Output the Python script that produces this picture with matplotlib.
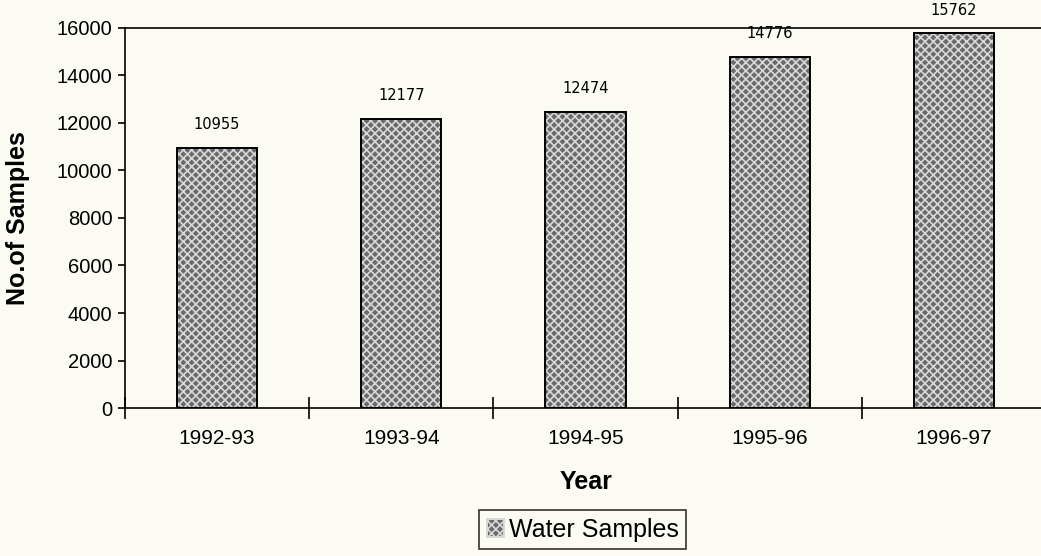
import matplotlib.pyplot as plt
import numpy as np

years = ["1992-93", "1993-94", "1994-95", "1995-96", "1996-97"]
samples = [10955, 12177, 12474, 14776, 15762]
yticks = [0, 2000, 4000, 6000, 8000, 10000, 12000, 14000, 16000]

plt.rcParams["font.family"] = ["Liberation Sans", "DejaVu Sans"]
plt.rcParams["hatch.linewidth"] = 1.2

fig = plt.figure(figsize=(10.41, 5.56), dpi=100, facecolor="#fbfaf3")
ax = fig.add_axes([0.120, 0.266, 0.885, 0.684])
ax.set_facecolor("#fbfaf3")

x = np.arange(len(years))
# textured fill, then a black outline on top
ax.bar(x, samples, width=0.435, color="#6a6a6a", edgecolor="#d8d8d8",
       hatch="xxxx", linewidth=0, zorder=2)
bars = ax.bar(x, samples, width=0.435, fill=False, edgecolor="black",
              linewidth=1.4, zorder=3)

for xi, v in zip(x, samples):
    ax.text(xi, v + 650, str(v), ha="center", va="bottom", fontsize=10.5,
            family="DejaVu Sans")

ax.set_xlim(-0.5, 4.5)
ax.set_ylim(0, 16000)
ax.set_yticks(yticks)
ax.tick_params(axis="y", labelsize=14.5, length=5, width=1.2, direction="out",
               pad=4)
ax.set_xticks(x)
ax.set_xticklabels(years)
ax.set_xticks(np.arange(-0.5, 5, 1), minor=True)
ax.tick_params(axis="x", which="major", length=0, labelsize=15, pad=15)
ax.tick_params(axis="x", which="minor", length=16, width=1.2, direction="inout")

ax.spines["right"].set_visible(False)
for s in ["left", "bottom", "top"]:
    ax.spines[s].set_linewidth(1.2)

ax.set_ylabel("No.of Samples", fontsize=18, fontweight="bold")
ax.yaxis.set_label_coords(-0.103, 0.5)
ax.set_xlabel("Year", fontsize=18, fontweight="bold", labelpad=16)

leg = ax.legend([bars.patches[0]], ["Water Samples"], loc="upper center",
                bbox_to_anchor=(0.497, -0.268), fontsize=18, frameon=True,
                fancybox=False, edgecolor="black", handlelength=0.7,
                handleheight=0.7, handletextpad=0.2, borderpad=0.3,
                borderaxespad=0)
leg.get_frame().set_linewidth(1.2)
leg.get_frame().set_facecolor("#fbfaf3")
# legend swatch uses the textured style
h = leg.legend_handles[0]
h.set_fill(True)
h.set_facecolor("#6a6a6a")
h.set_edgecolor("#d8d8d8")
h.set_hatch("xxxx")

fig.savefig("out.png", dpi=100, facecolor=fig.get_facecolor())
